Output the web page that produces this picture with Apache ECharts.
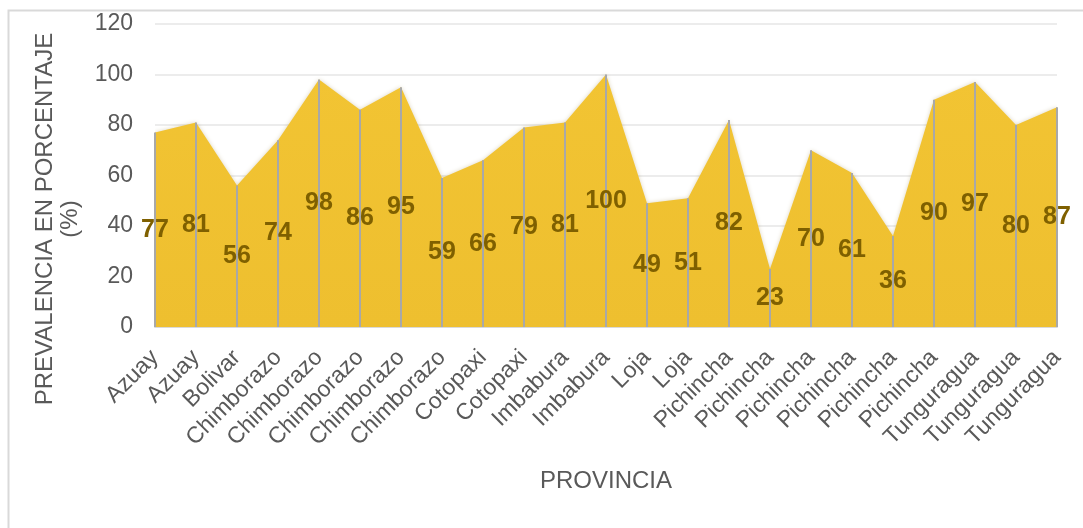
<!DOCTYPE html>
<html>
<head>
<meta charset="utf-8">
<script src="https://cdn.jsdelivr.net/npm/echarts@6/dist/echarts.min.js"></script>
<style>
html,body{margin:0;padding:0;background:#fff;}
#chart{width:1083px;height:528px;}
</style>
</head>
<body>
<div id="chart"></div>
<script>
var categories = ['Azuay','Azuay','Bolivar','Chimborazo','Chimborazo','Chimborazo','Chimborazo','Chimborazo','Cotopaxi','Cotopaxi','Imbabura','Imbabura','Loja','Loja','Pichincha','Pichincha','Pichincha','Pichincha','Pichincha','Pichincha','Tunguragua','Tunguragua','Tunguragua'];
var values = [77,81,56,74,98,86,95,59,66,79,81,100,49,51,82,23,70,61,36,90,97,80,87];
var yTicks = [0,20,40,60,80,100,120];
var yTitle = ['PREVALENCIA EN PORCENTAJE', '(%)'];
var xTitle = 'PROVINCIA';

var chart = echarts.init(document.getElementById('chart'), null, {renderer:'canvas'});
var font = 'Liberation Sans, Arial, sans-serif';
chart.setOption({
  animation:false,
  backgroundColor:'#ffffff',
  graphic:[
    {
      type:'rect', z:-10,
      shape:{x:8.5,y:10.5,width:1200,height:600},
      style:{fill:'none',stroke:'#d9d9d9',lineWidth:2}
    },
    {
      type:'text', x:45, y:219, rotation:Math.PI/2,
      style:{text:yTitle[0],fill:'#595959',font:'24px '+font,textAlign:'center',textVerticalAlign:'middle'}
    },
    {
      type:'text', x:70, y:219, rotation:Math.PI/2,
      style:{text:yTitle[1],fill:'#595959',font:'24px '+font,textAlign:'center',textVerticalAlign:'middle'}
    }
  ],
  grid:{left:155,right:26,top:24,bottom:201,containLabel:false},
  xAxis:{
    type:'category',
    data:categories,
    boundaryGap:false,
    axisLine:{show:true,lineStyle:{color:'#d9d9d9',width:2}},
    axisTick:{show:false},
    axisLabel:{rotate:45,color:'#595959',fontSize:23,fontFamily:font,margin:27,interval:0},
    splitLine:{show:false},
    name:xTitle,
    nameLocation:'middle',
    nameGap:142,
    nameTextStyle:{color:'#595959',fontSize:24,fontFamily:font}
  },
  yAxis:{
    type:'value',
    min:yTicks[0],max:yTicks[yTicks.length-1],interval:20,
    axisLine:{show:false},
    axisTick:{show:false},
    axisLabel:{color:'#595959',fontSize:23,fontFamily:font,margin:22},
    splitLine:{show:true,lineStyle:{color:'#ececec',width:2}}
  },
  series:[
    {
      type:'line',
      data:values,
      symbol:'none',
      lineStyle:{width:0},
      areaStyle:{
        color:new echarts.graphic.LinearGradient(0,0,0,1,[
          {offset:0,color:'#f2c433'},{offset:1,color:'#eebf2f'}
        ]),
        opacity:1,
        shadowColor:'rgba(120,90,0,0.25)',shadowBlur:4
      },
      z:2
    },
    {
      type:'bar',
      data:values,
      barWidth:2,
      itemStyle:{color:'#a8a8a8'},
      label:{
        show:true,position:'inside',
        color:'#7f6000',fontSize:25,fontWeight:'bold',fontFamily:font
      },
      z:3
    }
  ]
});
</script>
</body>
</html>
